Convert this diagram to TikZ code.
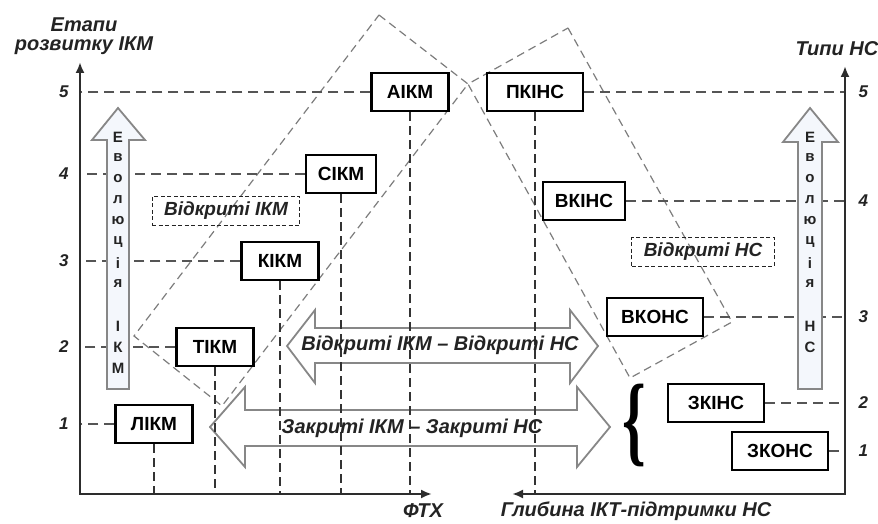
\documentclass[tikz,border=0pt]{standalone}
\usepackage{fontspec}
\setmainfont{Liberation Sans}
\newfontfamily\bracefont{Liberation Serif}
\usepackage{graphicx}
\usetikzlibrary{arrows.meta}
\definecolor{axisGray}{RGB}{45,45,45}
\definecolor{levelGray}{RGB}{85,85,85}
\definecolor{zoneGray}{RGB}{125,125,125}
\definecolor{arrowGray}{RGB}{135,135,135}
\definecolor{evolFill}{RGB}{244,247,252}
\definecolor{txtGray}{RGB}{35,35,35}

\begin{document}
\begin{tikzpicture}[x=1pt, y=-1pt,
    axis/.style={line width=2.4pt, axisGray},
    level/.style={line width=2pt, levelGray, dash pattern=on 10pt off 6pt},
    drop/.style={line width=1.6pt, black!80, dash pattern=on 9pt off 5pt},
    zone/.style={line width=1.2pt, zoneGray, dash pattern=on 8pt off 5pt},
    blockarrow/.style={line width=1.8pt, arrowGray, line join=miter},
    evolarrow/.style={line width=1.8pt, arrowGray, fill=evolFill},
    stage/.style={draw=black, line width=2.4pt, fill=white, minimum width=77pt,
      minimum height=38pt, inner sep=0pt, font=\fontsize{19}{21}\selectfont\bfseries},
    nstype/.style={stage, minimum width=96pt},
    lbl/.style={font=\fontsize{20}{19}\selectfont\bfseries\itshape, txtGray},
    tick/.style={font=\fontsize{17}{19}\selectfont\bfseries\itshape, txtGray},
    evol/.style={font=\fontsize{15}{16}\selectfont\bfseries, txtGray, inner sep=0pt},
    openbox/.style={draw=txtGray, line width=1pt, dash pattern=on 4pt off 2.5pt,
      minimum height=29pt, inner xsep=12pt, font=\fontsize{19}{21}\selectfont\bfseries\itshape, txtGray}]
    \useasboundingbox (0,0) rectangle (878,524);
    % Axis corners
    \coordinate (o) at (80,494);
    \coordinate (ytop) at (80,62);
    \coordinate (xend) at (432,494);
    \coordinate (r) at (845,494);
    \coordinate (rtop) at (845,66);
    \coordinate (rend) at (512,494);
    % Open zones (tilted dashed frames)
    \draw[zone] (379,15) -- (468,84) -- (222,406) -- (134,336) -- cycle;
    \draw[zone] (568,28) -- (732,322) -- (630,378) -- (468,84) -- cycle;
    % Block arrows
    \draw[blockarrow] (287,346) -- (315,310) -- (315,328) -- (570,328) -- (570,310) -- (598,346)
      -- (570,383) -- (570,363) -- (315,363) -- (315,383) -- cycle;
    \draw[blockarrow] (210,427) -- (245,387) -- (245,410) -- (577,410) -- (577,387) -- (610,427)
      -- (577,467) -- (577,446) -- (245,446) -- (245,467) -- cycle;
    % Stages of ICM
    \node[stage] (aikm) at (410,92) {АІКМ};
    \node[stage, minimum width=70pt] (sikm) at (341,174) {СІКМ};
    \node[stage] (kikm) at (280,261) {КІКМ};
    \node[stage] (tikm) at (215,347) {ТІКМ};
    \node[stage] (likm) at (154,424) {ЛІКМ};
    % Types of NS
    \node[nstype] (pkins) at (535,92) {ПКІНС};
    \node[nstype, minimum width=82pt] (vkins) at (584,201) {ВКІНС};
    \node[nstype] (vkons) at (655,317) {ВКОНС};
    \node[nstype] (zkins) at (716,403) {ЗКІНС};
    \node[nstype] (zkons) at (780,451) {ЗКОНС};
    % Level lines and ticks
    \foreach \b/\n in {likm/1,tikm/2,kikm/3,sikm/4,aikm/5}{
      \draw[level] (\b.west) -- (\b.west -| o);
      \node[tick, left=8pt] at (\b.west -| o) {\n};
    }
    \foreach \b/\n in {zkons/1,zkins/2,vkons/3,vkins/4,pkins/5}{
      \draw[level] (\b.east) -- (\b.east -| r);
      \node[tick, right=10pt] at (\b.east -| r) {\n};
    }
    \foreach \b in {likm,tikm,kikm,sikm,aikm,pkins}
      \draw[drop] (\b.south) -- (\b.south |- o);
    % Evolution arrows
    \draw[evolarrow] (107,389) -- (107,140) -- (92,140) -- (118,108) -- (145,140) -- (129,140) -- (129,389) -- cycle;
    \draw[evolarrow] (798,389) -- (798,142) -- (783,142) -- (810,108) -- (838,142) -- (822,142) -- (822,389) -- cycle;
    \foreach \l [count=\i] in {Е,в,о,л,ю,ц,і,я,{},І,К,М}
      \node[evol] at (118,116+21*\i) {\l};
    \foreach \l [count=\i] in {Е,в,о,л,ю,ц,і,я,{},Н,С}
      \node[evol] at (810,116+21*\i) {\l};
    % Labels
    \node[lbl] (openlbl) at (440,345) {Відкриті ІКМ – Відкриті НС};
    \node[lbl] (closedlbl) at (412,428) {Закриті ІКМ – Закриті НС};
    \node[openbox] (openikm) at (226,211) {Відкриті ІКМ};
    \node[openbox] (openns) at (703,252) {Відкриті НС};
    \node[inner sep=0pt] (brace) at (634,425) {\scalebox{0.6}[1]{\bracefont\bfseries\fontsize{100}{100}\selectfont\{}};
    % Axes
    \draw[axis, {Latex[length=11pt,width=9pt]}-{Latex[length=11pt,width=9pt]}] (ytop) -- (o) -- (xend);
    \draw[axis, {Latex[length=11pt,width=9pt]}-{Latex[length=11pt,width=9pt]}] (rtop) -- (r) -- (rend);
    \node[lbl, align=center] (ylbl) at (84,36) {Етапи\\розвитку ІКМ};
    \node[lbl] (rlbl) at (837,49) {Типи НС};
    \node[lbl] (xlbl) at (423,511) {ФТХ};
    \node[lbl] (glbl) at (636,511) {Глибина ІКТ-підтримки НС};
\end{tikzpicture}
\end{document}
